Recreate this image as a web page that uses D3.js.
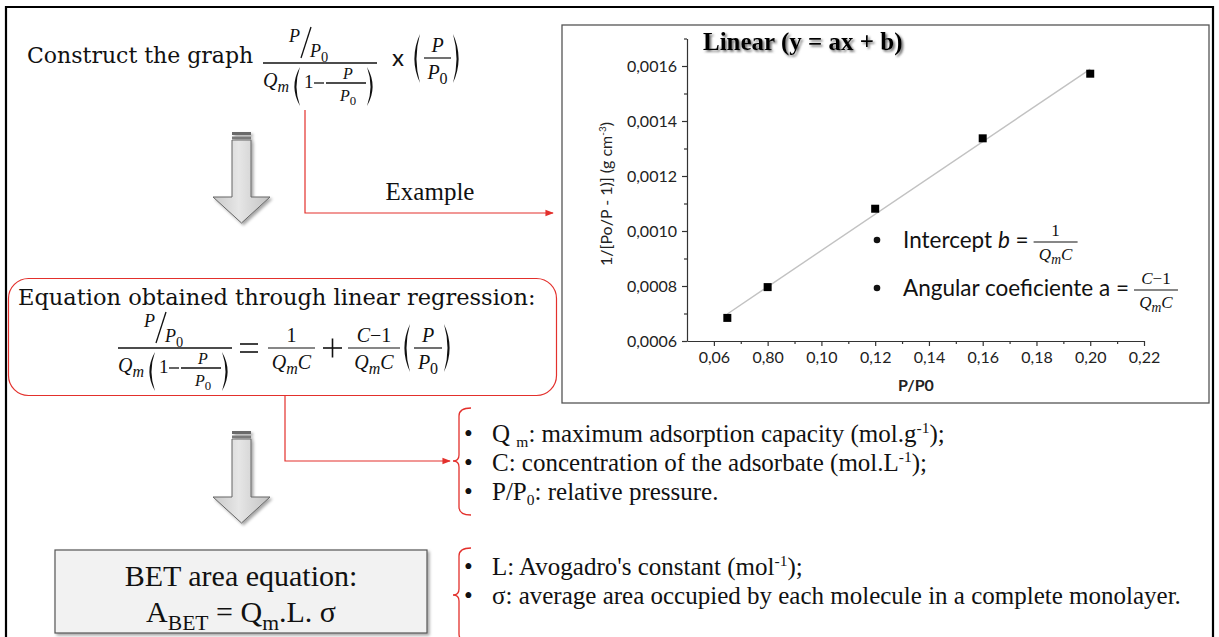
<!DOCTYPE html>
<html>
<head>
<meta charset="utf-8">
<script src="https://cdnjs.cloudflare.com/ajax/libs/d3/7.8.5/d3.min.js"></script>
<style>
	body { margin: 0; background: #fff; }
	svg { display: block; }
	.axis .domain, .axis line { stroke: #333; stroke-width: 1.2; }
	.axis text { font-family: Lato, sans-serif; font-size: 16px; fill: #222; }
</style>
</head>
<body>
<svg id="fig" width="1219" height="637"></svg>
<script>

// chart values
const xTickValues = [0.06, 0.08, 0.10, 0.12, 0.14, 0.16, 0.18, 0.20, 0.22]
const xTickLabels = ['0,06', '0,80', '0,10', '0,12', '0,14', '0,16', '0,18', '0,20', '0,22']
const xMinorTicks = [0.07, 0.09, 0.11, 0.13, 0.15, 0.17, 0.19, 0.21]
const yTickValues = [0.0006, 0.0008, 0.0010, 0.0012, 0.0014, 0.0016]
const yTickLabels = ['0,0006', '0,0008', '0,0010', '0,0012', '0,0014', '0,0016']
const yMinorTicks = [0.0007, 0.0009, 0.0011, 0.0013, 0.0015, 0.0017]
const relativePressure = [0.065, 0.08, 0.12, 0.16, 0.20]
const inverseAdsorbed = [0.000684, 0.000796, 0.001081, 0.001337, 0.001572]

// side notes ('_' = subscript, '^' = superscript)
const adsorptionNotes = [
	[['Q '], ['m', '_'], [': maximum adsorption capacity (mol.g'], ['-1', '^'], [');']],
	[['C: concentration of the adsorbate (mol.L'], ['-1', '^'], [');']],
	[['P/P'], ['0', '_'], [': relative pressure.']]
]
const areaNotes = [
	[["L: Avogadro's constant (mol"], ['-1', '^'], [');']],
	[['σ: average area occupied by each molecule in a complete monolayer.']]
]

const red = '#e3302c'
const ink = '#111'

const svg = d3.select('#fig')
const defs = svg.append('defs')

defs.append('filter').attr('id', 'shadow')
	.attr('x', '-20%').attr('y', '-20%').attr('width', '150%').attr('height', '150%')
	.append('feDropShadow')
	.attr('dx', 2).attr('dy', 2).attr('stdDeviation', 1.5)
	.attr('flood-color', '#000').attr('flood-opacity', 0.35)

defs.append('filter').attr('id', 'textShadow')
	.append('feDropShadow')
	.attr('dx', 1.8).attr('dy', 1.8).attr('stdDeviation', 0.8)
	.attr('flood-color', '#555').attr('flood-opacity', 0.85)

defs.append('marker').attr('id', 'redHead')
	.attr('viewBox', '0 0 10 10').attr('refX', 9).attr('refY', 5)
	.attr('markerWidth', 7).attr('markerHeight', 7).attr('orient', 'auto')
	.append('path').attr('d', 'M0,1 L10,5 L0,9 Z').attr('fill', red)

const grad = defs.append('linearGradient').attr('id', 'arrowFill')
grad.append('stop').attr('offset', '0%').attr('stop-color', '#c8c8c8')
grad.append('stop').attr('offset', '45%').attr('stop-color', '#e6e6e6')
grad.append('stop').attr('offset', '100%').attr('stop-color', '#c2c2c2')


function richText(g, x, y, parts, size, opts = {}) {
	const t = g.append('text')
		.attr('x', x).attr('y', y)
		.attr('font-family', opts.family || 'Liberation Serif')
		.attr('font-size', size)
		.attr('text-anchor', opts.anchor || 'start')
		.attr('fill', opts.fill || ink)
	let shift = 0
	parts.forEach(([s, kind = '']) => {
		let target = 0
		if (kind.includes('_')) target = size * (opts.drop || 0.25)
		if (kind.includes('^')) target = -size * 0.38
		const span = t.append('tspan').text(s).attr('dy', target - shift)
		if (target !== 0) span.attr('font-size', size * (opts.small || 0.62))
		if (kind.includes('i')) span.attr('font-style', 'italic')
		shift = target
	})
	return t
}

function math(g, x, y, parts, size, anchor) {
	return richText(g, x, y, parts, size, {family: 'Liberation Serif', anchor: anchor, small: 0.8})
}

function hline(g, x1, x2, yy, w) {
	g.append('line')
		.attr('x1', x1).attr('x2', x2).attr('y1', yy).attr('y2', yy)
		.attr('stroke', ink).attr('stroke-width', w || 1.3)
}

function paren(g, x, top, bottom, left) {
	const w = 7
	const mid = (top + bottom) / 2
	let d
	if (left) {
		d = `M${x + w},${top} Q${x - w * 0.6},${mid} ${x + w},${bottom} Q${x},${mid} ${x + w},${top} Z`
	} else {
		d = `M${x},${top} Q${x + w * 1.6},${mid} ${x},${bottom} Q${x + w},${mid} ${x},${top} Z`
	}
	g.append('path').attr('d', d).attr('fill', ink)
}

// P/P0 over Qm(1 - P/P0)
function betFraction(g, x0, ly) {
	math(g, x0 + 26, ly - 21, [['P', 'i']], 18)
	g.append('line')
		.attr('x1', x0 + 48).attr('y1', ly - 36).attr('x2', x0 + 38).attr('y2', ly - 5)
		.attr('stroke', ink).attr('stroke-width', 1.3)
	math(g, x0 + 47, ly - 6, [['P', 'i'], ['0', '_']], 18)
	hline(g, x0, x0 + 114, ly)
	math(g, x0, ly + 24, [['Q', 'i'], ['m', '_i']], 20)
	paren(g, x0 + 30, ly + 4, ly + 43, true)
	math(g, x0 + 41, ly + 25, [['1']], 19)
	hline(g, x0 + 51, x0 + 61, ly + 20)
	hline(g, x0 + 63, x0 + 103, ly + 20)
	math(g, x0 + 85, ly + 16, [['P', 'i']], 16, 'middle')
	math(g, x0 + 85, ly + 38, [['P', 'i'], ['0', '_']], 16, 'middle')
	paren(g, x0 + 104, ly + 4, ly + 43, false)
}

function smallFraction(g, x1, x2, ly, top, bottom, size) {
	hline(g, x1, x2, ly, 1.2)
	math(g, (x1 + x2) / 2, ly - 6, top, size, 'middle')
	math(g, (x1 + x2) / 2, ly + size + 1, bottom, size, 'middle')
}

function downArrow(g, cx, top, bottom) {
	const half = 9.5, head = 28.5, headTop = bottom - 26
	const a = g.append('g').attr('filter', 'url(#shadow)')
	a.append('path')
		.attr('d', `M${cx - half},${top + 8} H${cx + half} V${headTop} H${cx + head} L${cx},${bottom} L${cx - head},${headTop} H${cx - half} Z`)
		.attr('fill', 'url(#arrowFill)').attr('stroke', '#666').attr('stroke-width', 1)
	a.append('rect').attr('x', cx - half).attr('y', top).attr('width', half * 2).attr('height', 3)
		.attr('fill', '#6a6a6a')
	a.append('rect').attr('x', cx - half).attr('y', top + 4.5).attr('width', half * 2).attr('height', 2.5)
		.attr('fill', '#7a7a7a')
}

function brace(g, x, top, bottom, mid) {
	const d = `M${x + 12},${top} Q${x},${top} ${x},${top + 8} L${x},${mid - 6} Q${x},${mid} ${x - 6},${mid}` +
		` Q${x},${mid} ${x},${mid + 6} L${x},${bottom - 8} Q${x},${bottom} ${x + 12},${bottom}`
	g.append('path').attr('d', d).attr('fill', 'none').attr('stroke', red).attr('stroke-width', 1.3)
}


// frame
svg.append('path')
	.attr('d', 'M6,640 V7 H1213 V640')
	.attr('fill', 'none').attr('stroke', '#000').attr('stroke-width', 2.2)

// ---- left column ----
const left = svg.append('g')

left.append('text')
	.attr('x', 27).attr('y', 63)
	.attr('font-family', 'DejaVu Serif').attr('font-size', 22).attr('fill', ink)
	.text('Construct the graph')

betFraction(left, 263, 63)

left.append('text')
	.attr('x', 392).attr('y', 66)
	.attr('font-family', 'Lato').attr('font-size', 24).attr('fill', ink)
	.text('x')
paren(left, 413, 34, 83, true)
smallFraction(left, 424, 451, 58, [['P', 'i']], [['P', 'i'], ['0', '_']], 20)
paren(left, 453, 34, 83, false)

// red link to the example chart
left.append('path')
	.attr('d', 'M305,110 V213 H553')
	.attr('fill', 'none').attr('stroke', red).attr('stroke-width', 1.2)
	.attr('marker-end', 'url(#redHead)')

left.append('text')
	.attr('x', 430).attr('y', 200).attr('text-anchor', 'middle')
	.attr('font-family', 'Liberation Serif').attr('font-size', 25).attr('fill', ink)
	.text('Example')

downArrow(left, 241.5, 132, 223)

// regression equation box
left.append('rect')
	.attr('x', 8.5).attr('y', 278.5).attr('width', 548).attr('height', 117).attr('rx', 20)
	.attr('fill', 'none').attr('stroke', red).attr('stroke-width', 1.2)

left.append('text')
	.attr('x', 18).attr('y', 305)
	.attr('font-family', 'DejaVu Serif').attr('font-size', 22.5).attr('fill', ink)
	.text('Equation obtained through linear regression:')

betFraction(left, 118, 348)
hline(left, 240, 258, 344, 1.6)
hline(left, 240, 258, 352, 1.6)
smallFraction(left, 268, 315, 348, [['1']], [['Q', 'i'], ['m', '_i'], ['C', 'i']], 20)
hline(left, 323, 342, 348, 1.6)
left.append('line').attr('x1', 332.5).attr('x2', 332.5).attr('y1', 338.5).attr('y2', 357.5)
	.attr('stroke', ink).attr('stroke-width', 1.6)
smallFraction(left, 348, 400, 348, [['C', 'i'], ['−1']], [['Q', 'i'], ['m', '_i'], ['C', 'i']], 20)
paren(left, 403, 324, 372, true)
smallFraction(left, 414, 442, 348, [['P', 'i']], [['P', 'i'], ['0', '_']], 20)
paren(left, 444, 324, 372, false)

// red link to the variable notes
left.append('path')
	.attr('d', 'M285,396 V461 H450')
	.attr('fill', 'none').attr('stroke', red).attr('stroke-width', 1.2)
	.attr('marker-end', 'url(#redHead)')

downArrow(left, 241.5, 431, 523)

// BET box
left.append('rect')
	.attr('x', 55).attr('y', 550).attr('width', 372).attr('height', 83)
	.attr('fill', '#f2f2f2').attr('stroke', '#555').attr('stroke-width', 1.2)
	.attr('filter', 'url(#shadow)')

left.append('text')
	.attr('x', 241).attr('y', 586).attr('text-anchor', 'middle')
	.attr('font-family', 'Liberation Serif').attr('font-size', 30).attr('fill', ink)
	.text('BET area equation:')

richText(left, 241, 622, [['A'], ['BET', '_'], [' = Q'], ['m', '_'], ['.L. σ']], 30,
	{anchor: 'middle', small: 0.72})

// ---- notes ----
const notes = svg.append('g')
brace(notes, 459, 408, 515, 461)
brace(notes, 459, 548, 642, 595)

function drawNotes(list, firstBaseline, step) {
	list.forEach((parts, i) => {
		const yy = firstBaseline + i * step
		notes.append('text')
			.attr('x', 464).attr('y', yy)
			.attr('font-family', 'Liberation Serif').attr('font-size', 25).attr('fill', ink)
			.text('•')
		richText(notes, 492, yy, parts, 25, {drop: 0.18})
	})
}
drawNotes(adsorptionNotes, 442, 29)
drawNotes(areaNotes, 575, 29)

// ---- example chart ----
const chart = svg.append('g')

chart.append('rect')
	.attr('x', 562).attr('y', 25).attr('width', 647).attr('height', 378)
	.attr('fill', '#fff').attr('stroke', '#555').attr('stroke-width', 1.3)

const x = d3.scaleLinear().domain([0.05, 0.22]).range([687, 1144])
const y = d3.scaleLinear().domain([0.0006, 0.0017]).range([341, 38.5])

chart.append('g')
	.attr('class', 'axis')
	.attr('transform', 'translate(0,341)')
	.call(d3.axisBottom(x).tickValues(xMinorTicks).tickSize(3).tickFormat(''))
	.call(g => g.select('.domain').remove())

chart.append('g')
	.attr('class', 'axis')
	.attr('transform', 'translate(0,341)')
	.call(d3.axisBottom(x)
		.tickValues(xTickValues)
		.tickFormat((d, i) => xTickLabels[i])
		.tickSizeInner(5).tickSizeOuter(0).tickPadding(6))

chart.append('g')
	.attr('class', 'axis')
	.attr('transform', 'translate(687,0)')
	.call(d3.axisLeft(y).tickValues(yMinorTicks).tickSize(3).tickFormat(''))
	.call(g => g.select('.domain').remove())

chart.append('g')
	.attr('class', 'axis')
	.attr('transform', 'translate(687,0)')
	.call(d3.axisLeft(y)
		.tickValues(yTickValues)
		.tickFormat((d, i) => yTickLabels[i])
		.tickSizeInner(5).tickSizeOuter(0).tickPadding(5))

// least squares fit through the points
const points = relativePressure.map((p, i) => ({p: p, v: inverseAdsorbed[i]}))
const meanP = d3.mean(points, d => d.p)
const meanV = d3.mean(points, d => d.v)
const slope = d3.sum(points, d => (d.p - meanP) * (d.v - meanV)) / d3.sum(points, d => (d.p - meanP) ** 2)
const intercept = meanV - slope * meanP
const fitEnds = d3.extent(relativePressure)

chart.append('path')
	.datum(fitEnds)
	.attr('fill', 'none')
	.attr('stroke', '#c2c2c2')
	.attr('stroke-width', 1.4)
	.attr('d', d3.line().x(d => x(d)).y(d => y(intercept + slope * d)))

chart.selectAll('rect.point')
	.data(points)
	.enter()
	.append('rect')
	.attr('class', 'point')
	.attr('x', d => x(d.p) - 4)
	.attr('y', d => y(d.v) - 4)
	.attr('width', 8).attr('height', 8)
	.attr('fill', '#000')

chart.append('text')
	.attr('x', 703).attr('y', 50)
	.attr('font-family', 'Liberation Serif').attr('font-weight', 'bold').attr('font-size', 25)
	.attr('fill', '#000').attr('filter', 'url(#textShadow)')
	.text('Linear (y = ax + b)')

chart.append('text')
	.attr('x', 916).attr('y', 391).attr('text-anchor', 'middle')
	.attr('font-family', 'Lato').attr('font-weight', 'bold').attr('font-size', 16).attr('fill', '#222')
	.text('P/P0')

richText(chart, 0, 0, [['1/[Po/P - 1)] (g cm'], ['-3', '^'], [')']], 16, {family: 'Lato', anchor: 'middle', fill: '#222'})
	.attr('transform', 'translate(612,194) rotate(-90)')

// annotations inside the chart
chart.append('circle').attr('cx', 877).attr('cy', 240).attr('r', 3.3).attr('fill', ink)
const interceptText = richText(chart, 903, 248, [['Intercept '], ['b', 'i'], [' =']], 22.5, {family: 'Lato'})
const f1 = 903 + interceptText.node().getComputedTextLength() + 5
smallFraction(chart, f1, f1 + 44, 242, [['1']], [['Q', 'i'], ['m', '_i'], ['C', 'i']], 17)

chart.append('circle').attr('cx', 877).attr('cy', 288).attr('r', 3.3).attr('fill', ink)
const slopeText = richText(chart, 903, 296, [['Angular coeficiente a =']], 22.5, {family: 'Lato'})
const f2 = 903 + slopeText.node().getComputedTextLength() + 5
smallFraction(chart, f2, f2 + 44, 290, [['C', 'i'], ['−1']], [['Q', 'i'], ['m', '_i'], ['C', 'i']], 17)

</script>
</body>
</html>
